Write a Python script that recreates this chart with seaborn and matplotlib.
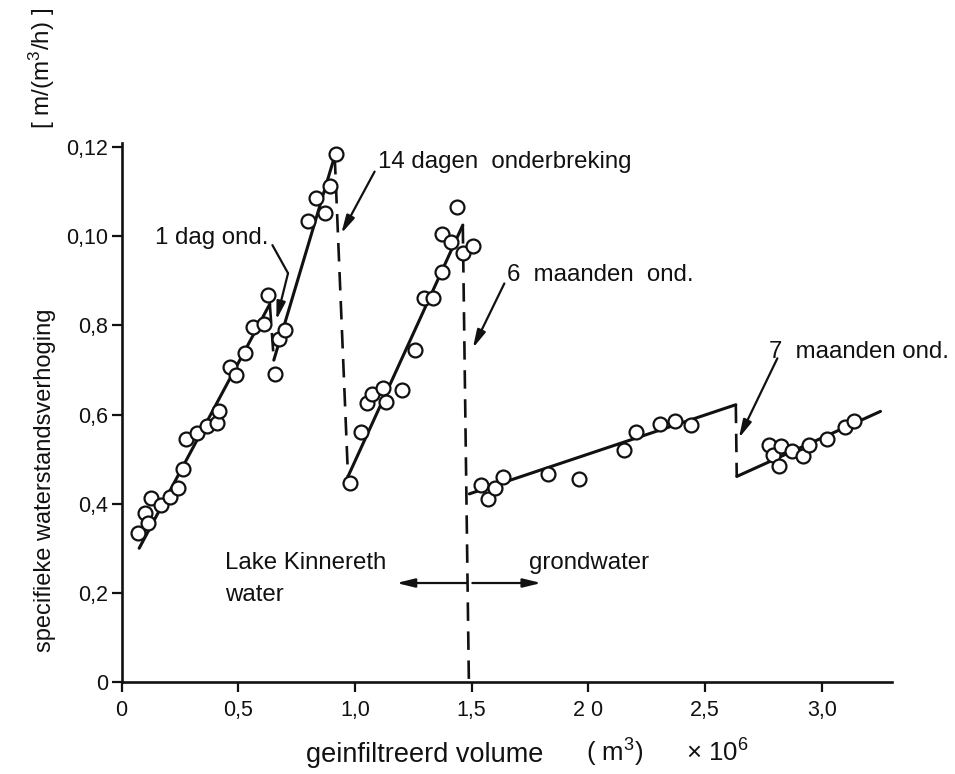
import matplotlib
matplotlib.use("Agg")
import matplotlib.pyplot as plt
import seaborn as sns
import pandas as pd

# ---------------- data ----------------
# Lake Kinnereth water, first run
x_run1 = [0.071, 0.100, 0.114, 0.124, 0.167, 0.207, 0.242, 0.264, 0.275, 0.323,
          0.364, 0.409, 0.416, 0.466, 0.489, 0.530, 0.563, 0.610, 0.629]
y_run1 = [0.0334, 0.0378, 0.0356, 0.0412, 0.0397, 0.0416, 0.0435, 0.0477, 0.0544, 0.0558,
          0.0574, 0.0582, 0.0608, 0.0707, 0.0689, 0.0737, 0.0796, 0.0803, 0.0868]
# after 1 dag onderbreking
x_run2 = [0.657, 0.674, 0.699, 0.798, 0.831, 0.873, 0.894, 0.920]
y_run2 = [0.0690, 0.0769, 0.0790, 0.1035, 0.1086, 0.1051, 0.1113, 0.1184]
# after 14 dagen onderbreking
x_run3 = [0.977, 1.024, 1.053, 1.074, 1.122, 1.134, 1.202, 1.255, 1.294, 1.333,
          1.372, 1.374, 1.412, 1.436, 1.462, 1.504]
y_run3 = [0.0446, 0.0561, 0.0625, 0.0645, 0.0659, 0.0627, 0.0655, 0.0745, 0.0861, 0.0861,
          0.0920, 0.1006, 0.0988, 0.1066, 0.0962, 0.0978]
# grondwater, after 6 maanden onderbreking
x_run4 = [1.540, 1.572, 1.600, 1.636, 1.825, 1.962, 2.151, 2.206, 2.306, 2.372, 2.442]
y_run4 = [0.0443, 0.0410, 0.0436, 0.0459, 0.0466, 0.0455, 0.0520, 0.0560, 0.0578, 0.0586, 0.0576]
# after 7 maanden onderbreking
x_run5 = [2.774, 2.791, 2.824, 2.817, 2.871, 2.920, 2.945, 3.021, 3.099, 3.138]
y_run5 = [0.0532, 0.0509, 0.0529, 0.0485, 0.0519, 0.0508, 0.0532, 0.0544, 0.0571, 0.0586]

# fitted straight lines (end points)
fit_x = [[0.075, 0.635], [0.652, 0.913], [0.970, 1.462], [1.490, 2.632], [2.636, 3.252]]
fit_y = [[0.0300, 0.0848], [0.0722, 0.1180], [0.0461, 0.1025], [0.0422, 0.0622], [0.0461, 0.0607]]
# interruptions (dashed)
brk_x = [[0.635, 0.652], [0.913, 0.970], [1.462, 1.488], [2.632, 2.636]]
brk_y = [[0.0848, 0.0722], [0.1180, 0.0461], [0.1025, 0.0], [0.0622, 0.0461]]

x_ticks = [0, 0.5, 1.0, 1.5, 2.0, 2.5, 3.0]
x_ticklabels = ["0", "0,5", "1,0", "1,5", "2 0", "2,5", "3,0"]
y_ticks = [0, 0.02, 0.04, 0.06, 0.08, 0.10, 0.12]
y_ticklabels = ["0", "0,2", "0,4", "0,6", "0,8", "0,10", "0,12"]

# ---------------- style ----------------
sns.set_theme(style="ticks")
plt.rcParams["font.family"] = ["Liberation Sans", "DejaVu Sans"]
plt.rcParams["mathtext.fontset"] = "custom"
plt.rcParams["mathtext.rm"] = "Liberation Sans"
plt.rcParams["mathtext.it"] = "Liberation Sans"

fig = plt.figure(figsize=(9.55, 7.74), dpi=100)
ax = fig.add_axes([0.1274, 0.1189, 0.9337 - 0.1274, 0.8146 - 0.1189])

ink = "#111111"

for fx, fy in zip(fit_x, fit_y):
    sns.lineplot(x=fx, y=fy, ax=ax, color=ink, lw=2.2, sort=False, estimator=None)
for bx, by in zip(brk_x, brk_y):
    sns.lineplot(x=bx, y=by, ax=ax, color=ink, lw=1.9, sort=False, estimator=None,
                 linestyle=(0, (7, 4)))

pts = pd.DataFrame({
    "x": x_run1 + x_run2 + x_run3 + x_run4 + x_run5,
    "y": y_run1 + y_run2 + y_run3 + y_run4 + y_run5,
})
sns.scatterplot(data=pts, x="x", y="y", ax=ax, marker="o", s=100,
                facecolor="white", edgecolor=ink, linewidth=1.6, zorder=5, clip_on=False)

ax.set_xlim(0, 3.30)
ax.set_ylim(0, 0.1208)
ax.set_xticks(x_ticks)
ax.set_xticklabels(x_ticklabels)
ax.set_yticks(y_ticks)
ax.set_yticklabels(y_ticklabels)
sns.despine(ax=ax)
for sp in ("left", "bottom"):
    ax.spines[sp].set_linewidth(1.9)
    ax.spines[sp].set_color(ink)
ax.tick_params(axis="both", direction="out", length=7, width=1.6, colors=ink,
               labelsize=15.5)
ax.tick_params(axis="x", pad=6)
ax.tick_params(axis="y", pad=3)
ax.set_xlabel("")
ax.set_ylabel("")

# axis titles (common baseline)
base_y = 1 - 762 / 774
fig.text(425 / 955, base_y, "geinfiltreerd volume",
         ha="center", va="baseline", fontsize=19.5, color=ink)
fig.text(615 / 955, base_y, "( m$^3$)",
         ha="center", va="baseline", fontsize=18.5, color=ink)
fig.text(717 / 955, base_y, "× 10$^6$",
         ha="center", va="baseline", fontsize=18.5, color=ink)
fig.text(45 / 955, 1 - 480 / 774, "specifieke waterstandsverhoging",
         rotation=90, ha="center", va="center", fontsize=17, color=ink)
fig.text(42 / 955, 1 - 68 / 774, "[ m/(m$^3$/h) ]",
         rotation=90, ha="center", va="center", fontsize=17.5, color=ink)

ann_fs = 17.3
arrow_kw = dict(arrowstyle="-|>,head_length=0.9,head_width=0.22", color=ink, lw=1.6,
                shrinkA=0, shrinkB=0)

# 1 dag ond.
ax.text(0.1425, 0.0996, "1 dag ond.", ha="left", va="center", fontsize=ann_fs, color=ink)
ax.plot([0.646, 0.713], [0.0980, 0.0917], color=ink, lw=1.6)
ax.annotate("", xy=(0.663, 0.0812), xytext=(0.713, 0.0917), arrowprops=arrow_kw)

# 14 dagen onderbreking
ax.text(1.098, 0.1166, "14 dagen  onderbreking", ha="left", va="center", fontsize=ann_fs, color=ink)
ax.annotate("", xy=(0.941, 0.1006), xytext=(1.084, 0.1145), arrowprops=arrow_kw)

# 6 maanden ond.
ax.text(1.653, 0.0913, "6  maanden  ond.", ha="left", va="center", fontsize=ann_fs, color=ink)
ax.annotate("", xy=(1.505, 0.0749), xytext=(1.640, 0.0894), arrowprops=arrow_kw)

# 7 maanden ond.
ax.text(2.774, 0.0741, "7  maanden ond.", ha="left", va="center", fontsize=ann_fs, color=ink)
ax.annotate("", xy=(2.645, 0.0547), xytext=(2.810, 0.0726), arrowprops=arrow_kw)

# water type labels and double arrow
ax.text(0.443, 0.0267, "Lake Kinnereth", ha="left", va="center", fontsize=ann_fs, color=ink)
ax.text(0.443, 0.0195, "water", ha="left", va="center", fontsize=ann_fs, color=ink)
ax.text(1.747, 0.0267, "grondwater", ha="left", va="center", fontsize=ann_fs, color=ink)
ax.annotate("", xy=(1.178, 0.0222), xytext=(1.478, 0.0222), arrowprops=arrow_kw)
ax.annotate("", xy=(1.798, 0.0222), xytext=(1.503, 0.0222), arrowprops=arrow_kw)

fig.savefig("out.png", dpi=100)
